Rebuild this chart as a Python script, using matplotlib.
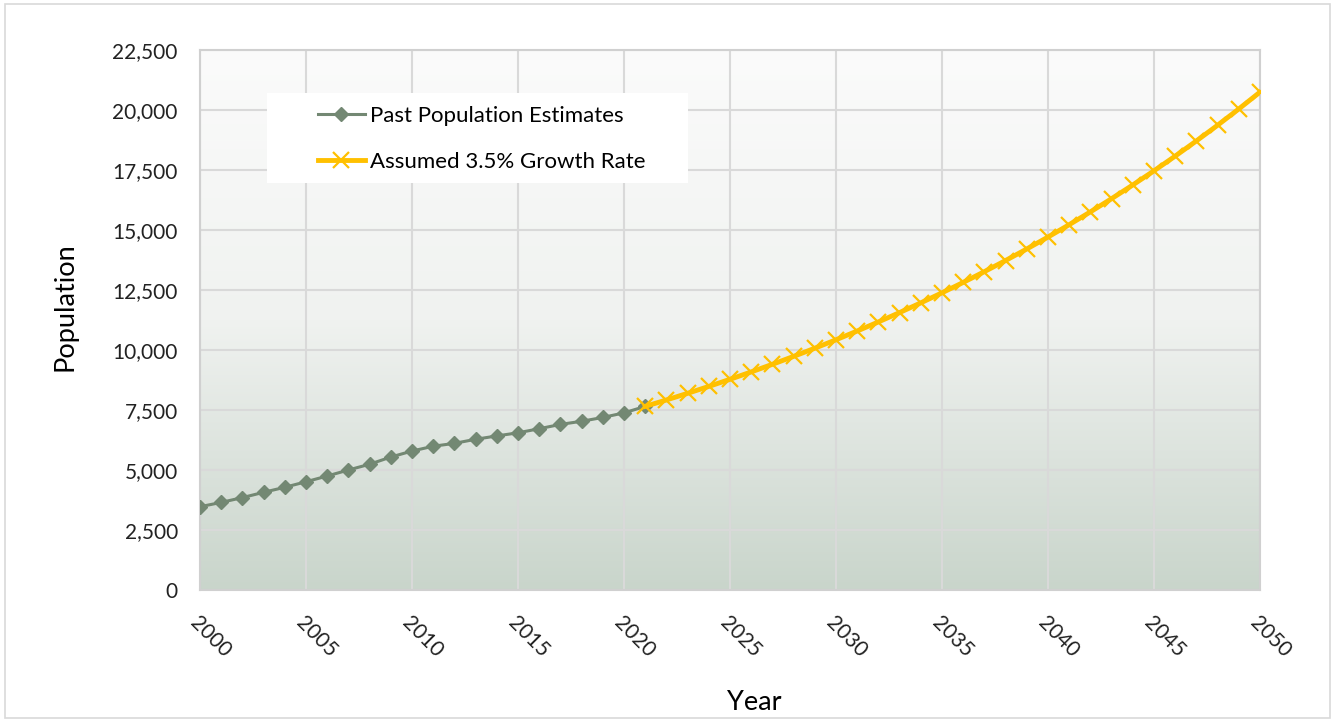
import numpy as np
import matplotlib.pyplot as plt
from matplotlib.colors import LinearSegmentedColormap
from matplotlib.patches import Rectangle
from matplotlib.ticker import FuncFormatter

plt.rcParams['font.family'] = ['Lato', 'DejaVu Sans']

# past estimates
past_years = list(range(2000, 2022))
past_pop = [3470, 3650, 3850, 4070, 4280, 4510, 4750, 5000, 5240, 5540, 5790,
            5990, 6110, 6280, 6420, 6550, 6720, 6900, 7030, 7190, 7380, 7650]

# projection at 3.5% per year
proj_years = list(range(2021, 2051))
proj_pop = [7650, 7918, 8195, 8482, 8779, 9086, 9404, 9733, 10074, 10426,
            10791, 11169, 11560, 11964, 12383, 12816, 13265, 13729, 14210, 14707,
            15222, 15755, 16306, 16877, 17467, 18079, 18712, 19366, 20044, 20746]

fig = plt.figure(figsize=(13.36, 7.21), dpi=100)
ax = fig.add_axes([200/1336, 1-590/721, 1060/1336, 540/721])

# outer chart border
fig.patches.append(Rectangle((5/1336, 3/721), 1325/1336, 714/721, transform=fig.transFigure,
                             fill=False, edgecolor='#d9d9d9', linewidth=1.2))

# background gradient
cmap = LinearSegmentedColormap.from_list('bg', ['#fbfbfb', '#f0f2f0', '#c9d5cb'])
grad = np.linspace(0, 1, 256).reshape(-1, 1)
ax.imshow(grad, extent=[0, 1, 0, 1], transform=ax.transAxes, cmap=cmap,
          aspect='auto', zorder=0)

ax.plot(past_years, past_pop, color='#738873', linewidth=2.2, marker='D',
        markersize=7.5, label='Past Population Estimates', zorder=3)
ax.plot(proj_years, proj_pop, color='#ffc000', linewidth=3.5, marker='x',
        markersize=11.5, markeredgewidth=1.6, label='Assumed 3.5% Growth Rate', zorder=4)

ax.set_xlim(2000, 2050)
ax.set_ylim(0, 22500)
ax.set_xticks(range(2000, 2051, 5))
ax.set_yticks(range(0, 22501, 2500))
ax.yaxis.set_major_formatter(FuncFormatter(lambda v, p: f'{int(v):,}'))
ax.grid(True, color='#d9d9d9', linewidth=1.5, zorder=1)
ax.set_axisbelow(True)
for s in ax.spines.values():
    s.set_color('#d0d0d0')
    s.set_linewidth(1.5)
ax.tick_params(length=0, labelsize=15, colors='#222222')
ax.tick_params(axis='y', pad=16)
ax.tick_params(axis='x', pad=16)
for lbl in ax.get_xticklabels():
    lbl.set_rotation(-45)
    lbl.set_ha('left')
    lbl.set_va('top')
    lbl.set_rotation_mode('anchor')

ax.set_ylabel('Population', fontsize=19.5, va='center', ha='center')
ax.set_xlabel('Year', fontsize=19.5, va='center', ha='center')
ax.yaxis.set_label_coords(-135/1060, 283/540)
ax.xaxis.set_label_coords(554/1060, -113/540)

# white legend panel
ax.add_patch(Rectangle((67/1060, 407/540), 421/1060, 90/540, transform=ax.transAxes,
                       facecolor='white', edgecolor='none', zorder=2))
leg = ax.legend(loc='upper left', bbox_to_anchor=(118/1060, 484/540), fontsize=16,
                frameon=False, handlelength=2.1, handletextpad=0.25,
                borderpad=0, labelspacing=1.15, borderaxespad=0)

fig.savefig('out.png', dpi=100)
